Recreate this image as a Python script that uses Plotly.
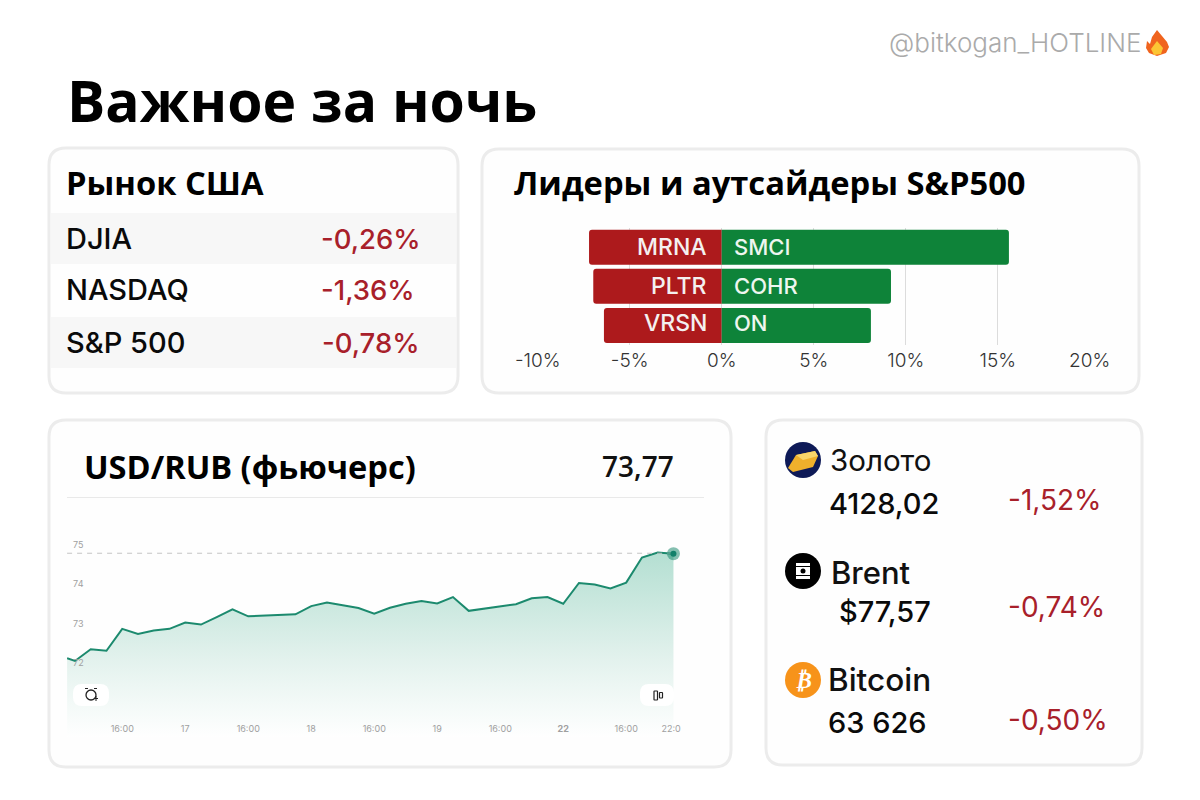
import plotly.graph_objects as go

W, H = 1200, 800

# ---------- data ----------
bar_rows = ["MRNA/SMCI", "PLTR/COHR", "VRSN/ON"]
losers = ["MRNA", "PLTR", "VRSN"]
leaders = ["SMCI", "COHR", "ON"]
loser_values = [-7.21, -6.98, -6.40]
leader_values = [15.61, 9.20, 8.11]
bar_ticks = [-10, -5, 0, 5, 10, 15, 20]
bar_tick_labels = ["-10%", "-5%", "0%", "5%", "10%", "15%", "20%"]

rub_x = [-0.5] + list(range(39))
rub_y = [72.11, 72.04, 72.34, 72.30, 72.86, 72.73, 72.82, 72.86, 73.02, 72.97,
         73.16, 73.36, 73.18, 73.20, 73.22, 73.23, 73.44, 73.53, 73.46, 73.39,
         73.25, 73.40, 73.50, 73.57, 73.51, 73.67, 73.32, 73.38, 73.44, 73.49,
         73.64, 73.67, 73.50, 74.03, 73.99, 73.89, 74.04, 74.68, 74.81, 74.78]
rub_ref_level = 74.79
rub_xticks = [3, 7, 11, 15, 19, 23, 27, 31, 35, 37.85]
rub_xlabels = ["16:00", "17", "16:00", "18", "16:00", "19", "16:00", "<b>22</b>", "16:00", "22:0"]
rub_yticks = [72, 73, 74, 75]

index_names = ["DJIA", "NASDAQ", "S&P 500"]
index_changes = ["-0,26%", "-1,36%", "-0,78%"]
asset_names = ["Золото", "Brent", "Bitcoin"]
asset_prices = ["4128,02", "$77,57", "63 626"]
asset_changes = ["-1,52%", "-0,74%", "-0,50%"]

RED = "#ad1a1c"
GREEN = "#0e8339"
TXT_RED = "#a8202a"
BODY = "Inter"
HEAD = "Open Sans"


def fx(p):
    return p / W


def fy(p):
    return 1 - p / H


def rr(x0, y0, x1, y1, r):
    k = [
        (x0 + r, y0), (x1 - r, y0), (x1, y0), (x1, y0 + r), (x1, y1 - r), (x1, y1),
        (x1 - r, y1), (x0 + r, y1), (x0, y1), (x0, y1 - r), (x0, y0 + r), (x0, y0), (x0 + r, y0),
    ]
    c = [(fx(a), fy(b)) for a, b in k]
    s = f"M{c[0][0]},{c[0][1]} L{c[1][0]},{c[1][1]} "
    s += f"Q{c[2][0]},{c[2][1]} {c[3][0]},{c[3][1]} L{c[4][0]},{c[4][1]} "
    s += f"Q{c[5][0]},{c[5][1]} {c[6][0]},{c[6][1]} L{c[7][0]},{c[7][1]} "
    s += f"Q{c[8][0]},{c[8][1]} {c[9][0]},{c[9][1]} L{c[10][0]},{c[10][1]} "
    s += f"Q{c[11][0]},{c[11][1]} {c[12][0]},{c[12][1]} Z"
    return s


def poly(pts):
    return "M" + " L".join(f"{fx(a)},{fy(b)}" for a, b in pts) + " Z"


shapes = []


def add_path(path, fill, line=None, width=0, layer="below"):
    shapes.append(dict(type="path", xref="paper", yref="paper", path=path, fillcolor=fill,
                       line=dict(color=line or fill, width=width), layer=layer))


def add_rect(x0, y0, x1, y1, fill, layer="below"):
    shapes.append(dict(type="rect", xref="paper", yref="paper", x0=fx(x0), x1=fx(x1), y0=fy(y1), y1=fy(y0),
                       fillcolor=fill, line=dict(width=0), layer=layer))


def add_circle(cx, cy, r, fill, line=None, width=0, layer="above"):
    shapes.append(dict(type="circle", xref="paper", yref="paper", x0=fx(cx - r), x1=fx(cx + r),
                       y0=fy(cy + r), y1=fy(cy - r), fillcolor=fill,
                       line=dict(color=line or fill, width=width), layer=layer))


# cards
for box in [(49, 148, 458, 393), (482, 149, 1139, 393), (49, 420, 731, 767), (766, 420, 1142, 765)]:
    add_path(rr(*box, 17), "#fefefe", "#ececec", 3)
add_rect(51, 213, 456, 264, "#f7f7f7")
add_rect(51, 317, 456, 368, "#f7f7f7")
add_rect(67, 497, 704, 498, "#e9e9e9")

# gold icon
add_circle(803, 460, 18, "#0e1a57")
add_path(poly([(788, 468), (796, 455), (815, 451), (818, 456), (813, 467), (793, 472)]), "#efb02c", layer="above")
add_path(poly([(796, 455), (815, 451), (818, 456), (803, 460)]), "#f8d46a", layer="above")
# brent icon
add_circle(803, 571, 18, "#000000")
add_rect(796, 563, 810, 579, "#ffffff", layer="above")
add_rect(796, 566, 810, 567, "#000000", layer="above")
add_rect(796, 575, 810, 576, "#000000", layer="above")
add_circle(803, 571, 2.5, "#000000")
# bitcoin icon
add_circle(803, 680, 18, "#f7931a")
# fire icon
add_path(poly([(1157, 30), (1162, 36), (1167, 42), (1169, 47), (1166, 53), (1157, 56), (1149, 53),
               (1146, 48), (1147, 41), (1150, 44), (1152, 37)]), "#f0641e", layer="above")
add_path(poly([(1157, 41), (1163, 48), (1161, 54), (1154, 55), (1151, 49)]), "#fcc534", layer="above")
# chart buttons
add_path(rr(73, 684, 109, 706, 9), "#ffffff", layer="above")
add_path(rr(640, 684, 674, 706, 9), "#ffffff", layer="above")
add_circle(91, 695, 5, "#ffffff", "#222222", 1.3)
add_rect(85, 688, 88, 689, "#222222", layer="above")
add_rect(94, 688, 97, 689, "#222222", layer="above")
add_rect(94, 698, 98, 699, "#222222", layer="above")
add_rect(95.5, 696, 96.5, 701, "#222222", layer="above")
add_path(rr(654, 691, 657.5, 700, 0.5), "#ffffff", "#222222", 1.2, layer="above")
add_path(rr(659.5, 692.5, 662.5, 698, 0.5), "#ffffff", "#222222", 1.2, layer="above")

ann = []


def text(x, y, s, size, color="#000000", family=BODY, anchor="left", weight=None):
    f = dict(size=size, color=color, family=family)
    if weight:
        f["weight"] = weight
    ann.append(dict(xref="paper", yref="paper", x=fx(x), y=fy(y), text=s, showarrow=False,
                    xanchor=anchor, yanchor="middle", font=f, xshift=0, yshift=0,
                    borderpad=0, align=anchor))


text(888, 43, "@bitkogan_HOTLINE", 26, "#aaaaaa", weight=300)
text(65.5, 100, "<b>Важное за ночь</b>", 57, family=HEAD)
text(65, 182, "<b>Рынок США</b>", 32.7, family=HEAD)
text(512.5, 182, "<b>Лидеры и аутсайдеры S&P500</b>", 32.7, family=HEAD)
text(83, 466, "<b>USD/RUB (фьючерс)</b>", 32.6, family=HEAD)
text(601, 466, "73,77", 28, "#111111", family=HEAD, weight=600)

for n, c, y, cx in zip(index_names, index_changes, [238, 289, 342], [319.5, 319.5, 320.5]):
    text(65, y, n, 29, "#0a0a0a", weight=500)
    text(cx, y + 1, c, 27.5, TXT_RED, weight=500)

for n, p, c, ns, ny, py, cy, nx, px_ in zip(asset_names, asset_prices, asset_changes, [29.5, 31, 31.5],
                                            [460, 572, 679], [503, 611, 722], [500, 607, 720],
                                            [829, 830, 827], [828, 838, 827]):
    text(nx, ny, n, ns, "#111111", weight=500 if n != "Золото" else 400)
    text(px_, py, p, 29, "#0a0a0a", weight=500)
    text(1007, cy, c, 28, TXT_RED, weight=400)

text(803, 680, "<b><i>₿</i></b>", 23, "#ffffff", family="DejaVu Sans", anchor="center")

fig = go.Figure()

# bars
fig.add_trace(go.Bar(x=loser_values, y=bar_rows, orientation="h", marker=dict(color=RED, line=dict(width=0)),
                     width=0.895, xaxis="x", yaxis="y", showlegend=False))
fig.add_trace(go.Bar(x=leader_values, y=bar_rows, orientation="h", marker=dict(color=GREEN, line=dict(width=0)),
                     width=0.895, xaxis="x", yaxis="y", showlegend=False))
for name, row, dy in zip(losers, bar_rows, [0, 0, 2.5]):
    ann.append(dict(xref="x", yref="y", x=0, y=row, text=name, showarrow=False, xanchor="right", xshift=-13, yshift=dy,
                    font=dict(size=23, color="#f4f0f0", family=BODY, weight=500)))
for name, row, dy in zip(leaders, bar_rows, [0, 0, 2.5]):
    ann.append(dict(xref="x", yref="y", x=0, y=row, text=name, showarrow=False, xanchor="left", xshift=10, yshift=dy,
                    font=dict(size=22, color="#eef6ef", family=BODY, weight=500)))

# line
base = [70.05] * len(rub_x)
fig.add_trace(go.Scatter(x=rub_x, y=base, mode="lines", line=dict(width=0), xaxis="x2", yaxis="y2",
                         showlegend=False, hoverinfo="skip"))
fig.add_trace(go.Scatter(x=rub_x, y=rub_y, mode="lines", line=dict(color="#1c8a6e", width=2), fill="tonexty",
                         fillgradient=dict(type="vertical",
                                           colorscale=[[0, "rgba(255,255,255,0.9)"], [0.45, "#e1f1ec"], [1, "#b4dfd2"]]),
                         xaxis="x2", yaxis="y2", showlegend=False))
fig.add_trace(go.Scatter(x=[rub_x[0], rub_x[-1]], y=[rub_ref_level, rub_ref_level], mode="lines",
                         line=dict(color="#c4c4c4", width=1, dash="5px,5px"), xaxis="x2", yaxis="y2", showlegend=False))
fig.add_trace(go.Scatter(x=rub_x[-1:], y=rub_y[-1:], mode="markers",
                         marker=dict(size=13, color="rgba(31,138,112,0.55)"), xaxis="x2", yaxis="y2", showlegend=False))
fig.add_trace(go.Scatter(x=rub_x[-1:], y=rub_y[-1:], mode="markers",
                         marker=dict(size=6, color="#12806a"), xaxis="x2", yaxis="y2", showlegend=False))

fig.update_layout(
    width=W, height=H, margin=dict(l=0, r=0, t=0, b=0, autoexpand=False), autosize=False,
    paper_bgcolor="#ffffff", plot_bgcolor="rgba(0,0,0,0)",
    barmode="relative", barcornerradius=3, showlegend=False,
    shapes=shapes, annotations=ann,
    xaxis=dict(domain=[fx(537.7), fx(1089.7)], range=[-10, 20], tickvals=bar_ticks, ticktext=bar_tick_labels,
               showgrid=True, gridcolor="#dcdcdc", gridwidth=1, zeroline=False,
               showline=False, ticks="", tickfont=dict(size=19, color="#333333", family=BODY, weight=300),
               ticklabelstandoff=2, anchor="y", fixedrange=True),
    yaxis=dict(domain=[fy(345), fy(227.7)], categoryorder="array", categoryarray=bar_rows, autorange="reversed",
               showticklabels=False, showgrid=False, zeroline=False, ticks="", anchor="x", fixedrange=True),
    xaxis2=dict(domain=[fx(67.1), fx(690)], range=[-0.5, 39.05], tickvals=rub_xticks, ticktext=rub_xlabels,
                ticklabelposition="inside", ticks="", showgrid=False, zeroline=False, showline=False,
                tickfont=dict(size=9, color="#a0a0a0", family=BODY), anchor="y2", tickangle=0, fixedrange=True),
    yaxis2=dict(domain=[fy(737), fy(530)], range=[70.10, 75.383], tickvals=rub_yticks,
                ticklabelposition="inside", ticks="", showgrid=False, zeroline=False, showline=False, ticklabelstandoff=3,
                tickfont=dict(size=9, color="#a0a0a0", family=BODY), anchor="x2", fixedrange=True),
)

fig.write_html("out.html", post_script="document.body.style.margin='0';", config={"displayModeBar": False})
